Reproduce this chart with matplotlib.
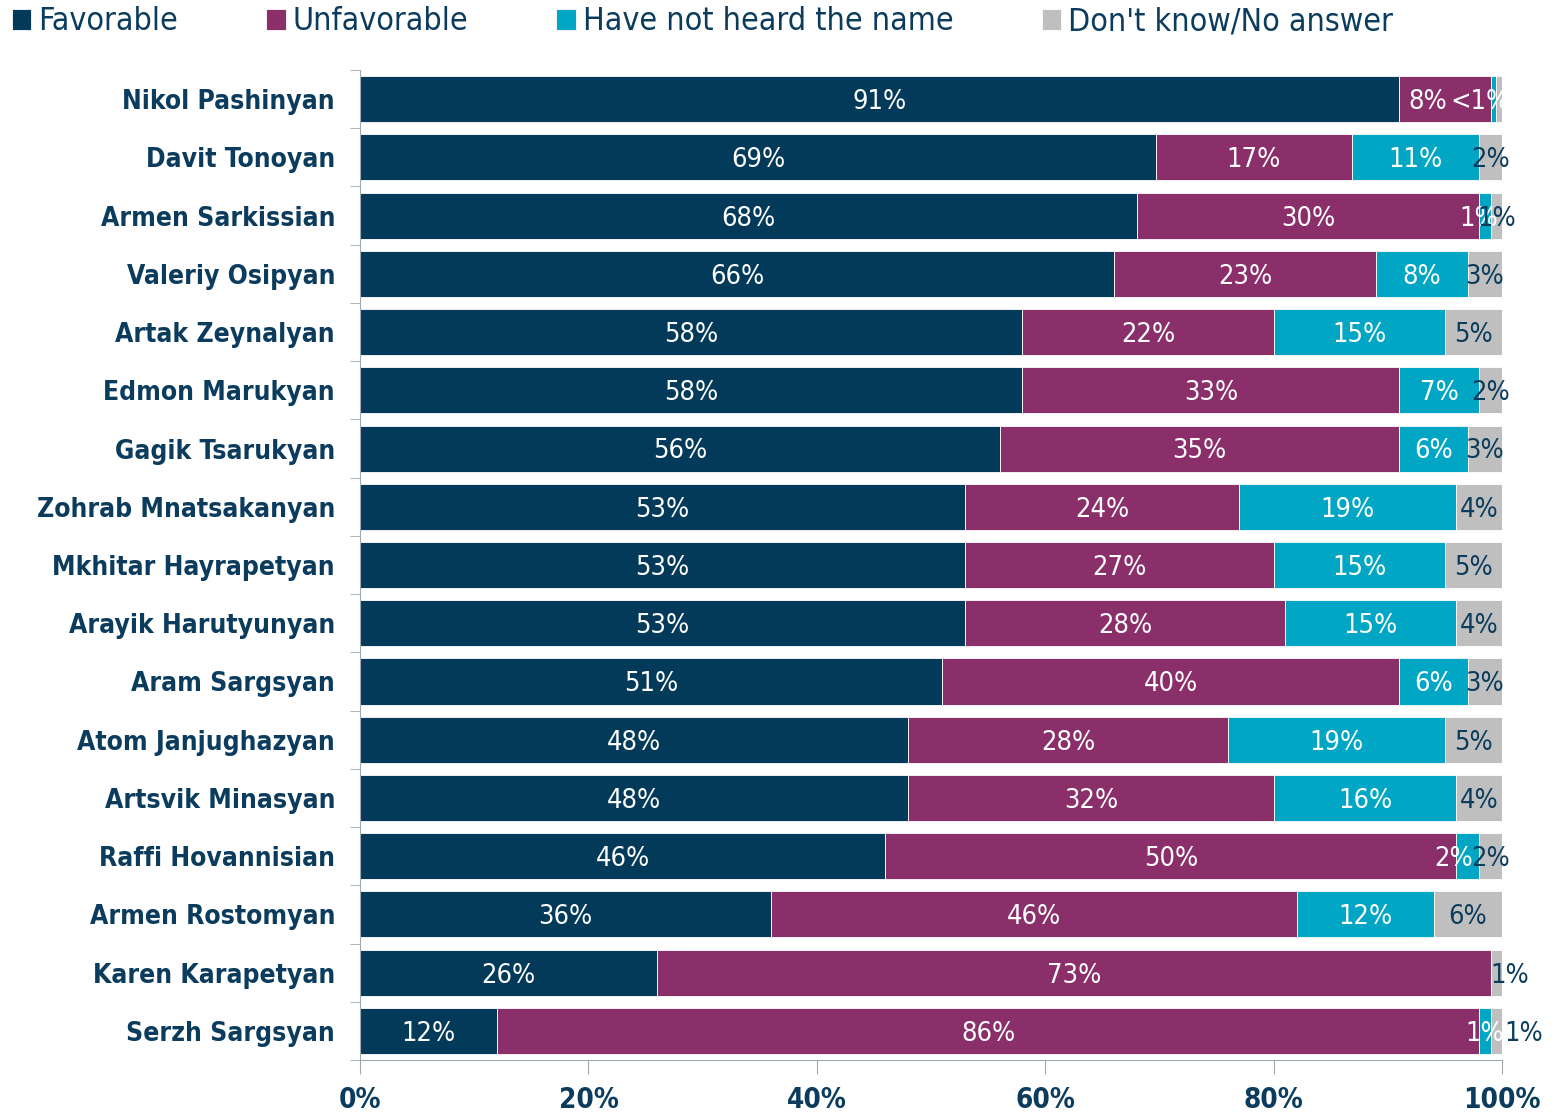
import matplotlib
matplotlib.use('Agg')
import matplotlib.pyplot as plt
import numpy as np

names = ['Nikol Pashinyan', 'Davit Tonoyan', 'Armen Sarkissian', 'Valeriy Osipyan',
         'Artak Zeynalyan', 'Edmon Marukyan', 'Gagik Tsarukyan', 'Zohrab Mnatsakanyan',
         'Mkhitar Hayrapetyan', 'Arayik Harutyunyan', 'Aram Sargsyan', 'Atom Janjughazyan',
         'Artsvik Minasyan', 'Raffi Hovannisian', 'Armen Rostomyan', 'Karen Karapetyan',
         'Serzh Sargsyan']
favorable = [91, 69, 68, 66, 58, 58, 56, 53, 53, 53, 51, 48, 48, 46, 36, 26, 12]
unfavorable = [8, 17, 30, 23, 22, 33, 35, 24, 27, 28, 40, 28, 32, 50, 46, 73, 86]
not_heard = [0.5, 11, 1, 8, 15, 7, 6, 19, 15, 15, 6, 19, 16, 2, 12, 0, 1]
dont_know = [0.5, 2, 1, 3, 5, 2, 3, 4, 5, 4, 3, 5, 4, 2, 6, 1, 1]

series = [('Favorable', favorable, '#033a5a', 'white'),
          ('Unfavorable', unfavorable, '#8b2f6b', 'white'),
          ('Have not heard the name', not_heard, '#00a6c3', 'white'),
          ("Don't know/No answer", dont_know, '#bfbfbf', '#0b3c5d')]

# special label texts and small nudges for crowded segments (row, series)
label_text = {(0, 2): '<1%', (0, 3): ''}
label_shift = {(0, 1): -1.5, (0, 2): -1.2, (2, 2): -0.5, (13, 2): -1.2,
               (15, 3): 1.2, (16, 3): 2.4}

navy = '#0b3c5d'
font = dict(family='DejaVu Sans', stretch='condensed')

fig = plt.figure(figsize=(15.58, 11.15), dpi=100)
ax = fig.add_axes([0.2311, 0.0493, 0.9641 - 0.2311, 0.9372 - 0.0493])

vals = np.array([s[1] for s in series], dtype=float)
totals = vals.sum(axis=0)
shares = vals / totals * 100
y = np.arange(len(names))

left = np.zeros(len(names))
for k, (label, _, color, tcolor) in enumerate(series):
    ax.barh(y, shares[k], left=left, height=0.79, color=color, label=label,
            edgecolor='white', linewidth=0.6)
    for i in range(len(names)):
        v = vals[k, i]
        txt = label_text.get((i, k), f'{v:.0f}%' if v > 0 else '')
        if not txt:
            continue
        x = left[i] + shares[k, i] / 2 + label_shift.get((i, k), 0)
        ax.text(x, y[i] + 0.05, txt, ha='center', va='center', color=tcolor,
                fontsize=19.5, **font)
    left += shares[k]

ax.set_xlim(0, 100)
ax.set_ylim(len(names) - 0.5, -0.5)
ax.set_xticks(np.arange(0, 101, 20))
ax.set_xticklabels([f'{t}%' for t in range(0, 101, 20)], fontsize=20,
                   fontweight='bold', color=navy, **font)
ax.set_yticks(y)
ax.set_yticklabels(names, fontsize=19, fontweight='bold', color=navy, **font)
ax.tick_params(axis='y', length=0, pad=18)
ax.set_yticks(np.arange(-0.5, len(names)), minor=True)
ax.tick_params(axis='y', which='minor', length=7, color='#a0a8b0', direction='out')
ax.tick_params(axis='x', length=10, color='#a0a8b0', pad=9)

for s in ['top', 'right']:
    ax.spines[s].set_visible(False)
for s in ['left', 'bottom']:
    ax.spines[s].set_color('#a0a8b0')

leg = fig.legend(loc='upper left', bbox_to_anchor=(-0.011, 1.02), ncol=4, frameon=False,
                 handlelength=0.62, handleheight=0.62, handletextpad=0.22,
                 columnspacing=2.75, prop=dict(size=23, **font))
for t in leg.get_texts():
    t.set_color(navy)

fig.savefig('out.png', dpi=100)
